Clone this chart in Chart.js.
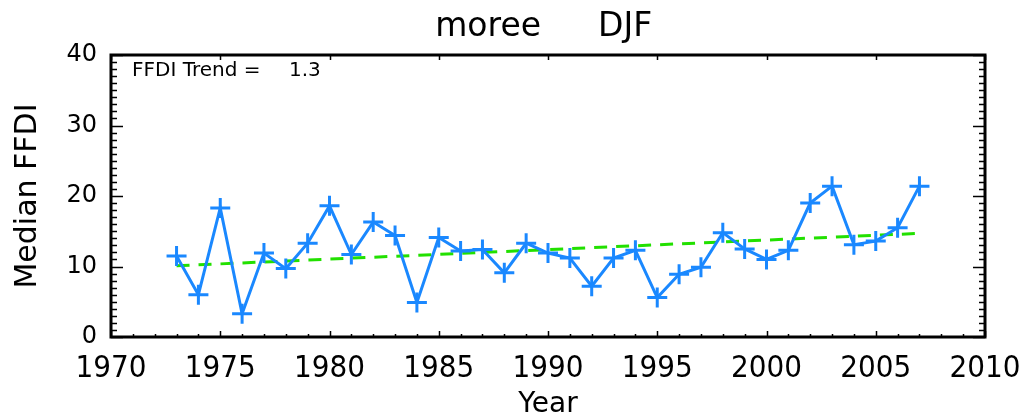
<!DOCTYPE html>
<html>
<head>
<meta charset="utf-8">
<script src="https://cdn.jsdelivr.net/npm/chart.js@4"></script>
<style>
  html, body { margin: 0; padding: 0; background: #fff; }
  #wrap { width: 1026px; height: 416px; }
</style>
</head>
<body>
<div id="wrap"><canvas id="ffdiChart" width="1026" height="416"></canvas></div>
<script>
// data
const years = [1973, 1974, 1975, 1976, 1977, 1978, 1979, 1980, 1981, 1982,
               1983, 1984, 1985, 1986, 1987, 1988, 1989, 1990, 1991, 1992,
               1993, 1994, 1995, 1996, 1997, 1998, 1999, 2000, 2001, 2002,
               2003, 2004, 2005, 2006, 2007];
const medianFFDI = [11.5, 6.0, 18.3, 3.3, 11.9, 9.7, 13.3, 18.6, 11.7, 16.3,
                    14.4, 4.9, 14.1, 12.2, 12.4, 9.1, 13.3, 11.9, 11.2, 7.2,
                    11.2, 12.3, 5.6, 8.9, 9.9, 14.8, 12.5, 11.0, 12.3, 19.0,
                    21.4, 13.1, 13.6, 15.5, 21.4];
const trendYears = [1973, 2007];
const trendValues = [10.1, 14.7];
const xTicks = [1970, 1975, 1980, 1985, 1990, 1995, 2000, 2005, 2010];
const yTicks = [0, 10, 20, 30, 40];

const stationName = "moree";
const seasonName = "DJF";
const trendLabel = "FFDI Trend =";
const trendValue = "1.3";

// frame, inward ticks, title and trend note (IDL style)
const idlFrame = {
  id: "idlFrame",
  afterDraw(chart) {
    const ctx = chart.ctx;
    const area = chart.chartArea;
    const x = chart.scales.x, y = chart.scales.y;
    ctx.save();
    ctx.strokeStyle = "#000";
    ctx.lineWidth = 1.5;
    ctx.beginPath();
    // x ticks: every year on bottom, majors on top
    for (let yr = 1970; yr <= 2010; yr++) {
      const px = Math.round(x.getPixelForValue(yr)) + 0.5;
      const major = yr % 5 === 0;
      ctx.moveTo(px, area.bottom);
      ctx.lineTo(px, area.bottom - (major ? 6 : 3));
      if (major) {
        ctx.moveTo(px, area.top);
        ctx.lineTo(px, area.top + 5);
      }
    }
    // y ticks: every unit, left and right
    for (let v = 0; v <= 40; v++) {
      const py = Math.round(y.getPixelForValue(v)) + 0.5;
      const len = v % 10 === 0 ? 12 : 6;
      ctx.moveTo(area.left, py);
      ctx.lineTo(area.left + len, py);
      ctx.moveTo(area.right, py);
      ctx.lineTo(area.right - len, py);
    }
    ctx.stroke();

    ctx.lineWidth = 3;
    ctx.strokeRect(area.left, area.top, area.right - area.left, area.bottom - area.top);

    ctx.fillStyle = "#000";
    ctx.textBaseline = "alphabetic";
    ctx.font = "33px 'DejaVu Sans'";
    ctx.textAlign = "right";
    ctx.fillText(stationName, 541, 36);
    ctx.textAlign = "left";
    ctx.fillText(seasonName, 598, 36);

    ctx.textBaseline = "middle";
    ctx.font = "20px 'DejaVu Sans'";
    ctx.fillText(trendLabel, 132, 71);
    ctx.fillText(trendValue, 289, 71);
    ctx.restore();
  }
};

new Chart(document.getElementById("ffdiChart"), {
  type: "line",
  data: {
    datasets: [
      {
        label: "Median FFDI",
        data: years.map((yr, i) => ({ x: yr, y: medianFFDI[i] })),
        borderColor: "#1a88ff",
        backgroundColor: "#1a88ff",
        borderWidth: 3,
        pointStyle: "cross",
        pointRadius: 10,
        pointBorderWidth: 3,
        tension: 0
      },
      {
        label: "Trend",
        data: trendYears.map((yr, i) => ({ x: yr, y: trendValues[i] })),
        borderColor: "#22e000",
        borderWidth: 3,
        borderDash: [13, 9],
        pointRadius: 0,
        tension: 0
      }
    ]
  },
  options: {
    responsive: false,
    animation: false,
    layout: { padding: { top: 55, right: 41, left: 0, bottom: 0 } },
    plugins: {
      legend: { display: false },
      tooltip: { enabled: false }
    },
    scales: {
      x: {
        type: "linear",
        min: 1970,
        max: 2010,
        afterFit: s => { s.height = 79; s.paddingLeft = 0; s.paddingRight = 0; },
        afterBuildTicks: s => { s.ticks = xTicks.map(v => ({ value: v })); },
        grid: { display: false, drawTicks: false },
        border: { display: false },
        ticks: {
          color: "#000",
          padding: 13,
          maxRotation: 0,
          font: { family: "'DejaVu Sans Condensed'", size: 31 },
          callback: v => String(v)
        },
        title: {
          display: true,
          text: "Year",
          color: "#000",
          padding: { top: 0, bottom: -3 },
          font: { family: "'DejaVu Sans'", size: 28, lineHeight: 1 }
        }
      },
      y: {
        min: 0,
        max: 40,
        afterFit: s => { s.width = 111; s.paddingTop = 0; s.paddingBottom = 0; },
        afterBuildTicks: s => { s.ticks = yTicks.map(v => ({ value: v })); },
        grid: { display: false, drawTicks: false },
        border: { display: false },
        ticks: {
          color: "#000",
          padding: 14,
          font: { family: "'DejaVu Sans'", size: 24 }
        },
        title: {
          display: true,
          text: "Median FFDI",
          color: "#000",
          padding: { top: 13, bottom: 0 },
          font: { family: "'DejaVu Sans'", size: 30, lineHeight: 1 }
        }
      }
    }
  },
  plugins: [idlFrame]
});
</script>
</body>
</html>
